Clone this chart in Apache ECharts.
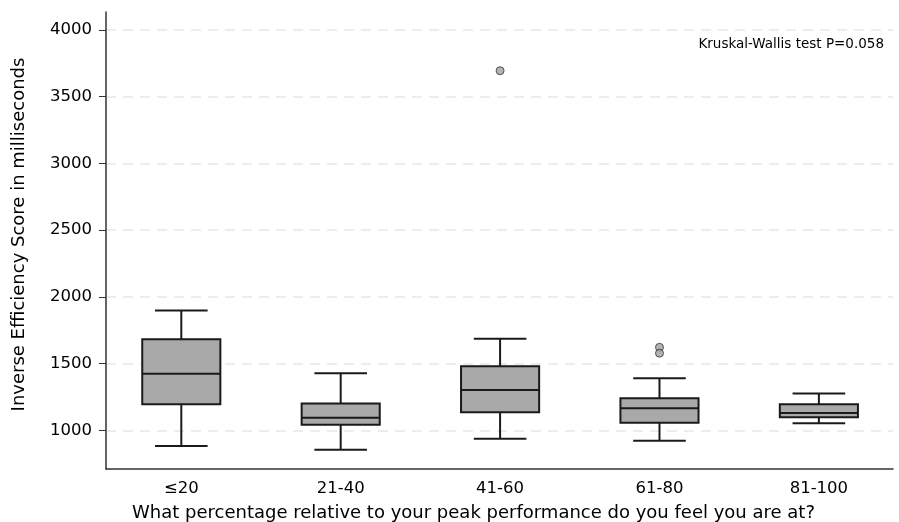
<!DOCTYPE html>
<html>
<head>
<meta charset="utf-8">
<script src="https://cdn.jsdelivr.net/npm/echarts@6/dist/echarts.min.js"></script>
<style>
html,body{margin:0;padding:0;background:#fff;}
#chart{width:899px;height:522px;}
</style>
</head>
<body>
<div id="chart"></div>
<script>
const categories = ['≤20', '21-40', '41-60', '61-80', '81-100'];
const whiskerLow = [882, 855, 937, 922, 1052];
const q1 = [1195, 1042, 1135, 1057, 1097];
const median = [1424, 1095, 1302, 1165, 1130];
const q3 = [1683, 1200, 1480, 1240, 1195];
const whiskerHigh = [1897, 1427, 1687, 1390, 1275];
const outliers = [[3, 3695], [4, 1622], [4, 1578]];
const yTicks = [1000, 1500, 2000, 2500, 3000, 3500, 4000];
const annotation = 'Kruskal-Wallis test P=0.058';

const boxData = categories.map((c, i) => [i + 1, whiskerLow[i], q1[i], median[i], q3[i], whiskerHigh[i]]);
const FONT = 'DejaVu Sans';

const chart = echarts.init(document.getElementById('chart'), null, {renderer: 'canvas'});
chart.setOption({
  backgroundColor: '#fff',
  animation: false,
  grid: {left: 106, right: 6, top: 12, bottom: 53, containLabel: false, outerBoundsMode: 'none'},
  title: {
    text: annotation,
    right: 10, top: 32,
    textStyle: {fontFamily: FONT, fontSize: 13.5, fontWeight: 'normal', color: '#000'}
  },
  xAxis: {
    type: 'value',
    min: 0.5276, max: 5.465,
    name: 'What percentage relative to your peak performance do you feel you are at?',
    nameLocation: 'middle',
    nameGap: 35,
    nameTextStyle: {fontFamily: FONT, fontSize: 18, color: '#000', padding: [0, 52, 0, 0]},
    axisLine: {show: true, onZero: false, lineStyle: {color: '#333', width: 1.5}},
    axisTick: {show: false, customValues: [1, 2, 3, 4, 5]},
    axisLabel: {
      customValues: [1, 2, 3, 4, 5],
      formatter: v => categories[Math.round(v) - 1] || '',
      fontFamily: FONT, fontSize: 16.5, color: '#000', margin: 11
    },
    splitLine: {show: false}
  },
  yAxis: {
    type: 'value',
    min: 710, max: 4135,
    name: 'Inverse Efficiency Score in milliseconds',
    nameLocation: 'middle',
    nameGap: 78,
    nameTextStyle: {fontFamily: FONT, fontSize: 18, color: '#000', padding: [0, 0, 0, 12]},
    axisLine: {show: true, lineStyle: {color: '#333', width: 1.5}},
    axisTick: {show: true, length: 7, customValues: yTicks, lineStyle: {color: '#333', width: 1}},
    axisLabel: {customValues: yTicks, formatter: v => String(v), fontFamily: FONT, fontSize: 16.5, color: '#000', margin: 14},
    splitLine: {show: true, lineStyle: {color: '#e8e8e8', type: [10, 7], width: 1.5}}
  },
  series: [
    {
      type: 'custom',
      data: boxData,
      encode: {x: 0, y: [1, 2, 3, 4, 5]},
      renderItem: function (params, api) {
        const x = api.value(0);
        const band = api.size([1, 0])[0];
        const bw = band * 0.49;
        const cw = band * 0.33;
        const pLow = api.coord([x, api.value(1)]);
        const pQ1 = api.coord([x, api.value(2)]);
        const pMed = api.coord([x, api.value(3)]);
        const pQ3 = api.coord([x, api.value(4)]);
        const pHigh = api.coord([x, api.value(5)]);
        const cx = pMed[0];
        const ls = {stroke: '#1a1a1a', lineWidth: 2, fill: null};
        return {
          type: 'group',
          children: [
            {type: 'line', shape: {x1: cx, y1: pQ3[1], x2: cx, y2: pHigh[1]}, style: ls},
            {type: 'line', shape: {x1: cx, y1: pQ1[1], x2: cx, y2: pLow[1]}, style: ls},
            {type: 'line', shape: {x1: cx - cw / 2, y1: pHigh[1], x2: cx + cw / 2, y2: pHigh[1]}, style: ls},
            {type: 'line', shape: {x1: cx - cw / 2, y1: pLow[1], x2: cx + cw / 2, y2: pLow[1]}, style: ls},
            {type: 'rect', shape: {x: cx - bw / 2, y: pQ3[1], width: bw, height: pQ1[1] - pQ3[1]},
              style: {fill: '#a9a9a9', stroke: '#1a1a1a', lineWidth: 2}},
            {type: 'line', shape: {x1: cx - bw / 2, y1: pMed[1], x2: cx + bw / 2, y2: pMed[1]}, style: ls}
          ]
        };
      },
      z: 3
    },
    {
      type: 'scatter',
      data: outliers,
      symbol: 'circle',
      symbolSize: 8,
      itemStyle: {color: '#a0a0a0', borderColor: '#333', borderWidth: 1},
      z: 4
    }
  ]
});
</script>
</body>
</html>
